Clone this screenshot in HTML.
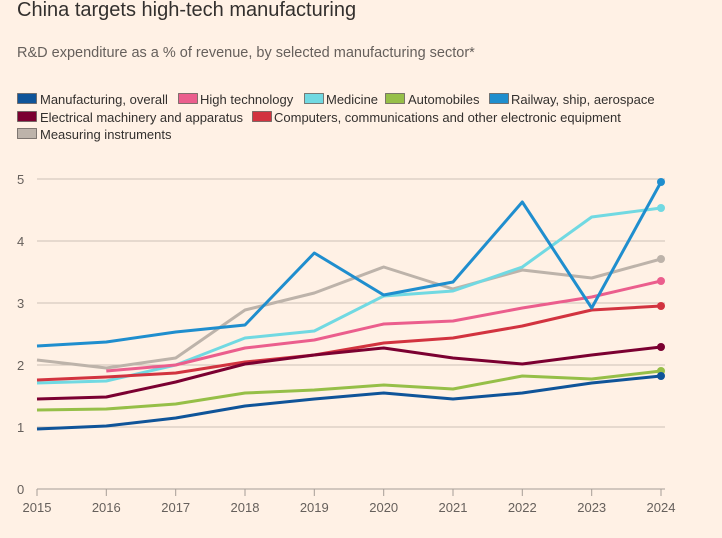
<!DOCTYPE html>
<html><head><meta charset="utf-8"><style>
body{margin:0;background:#fff1e5;width:722px;height:533px;overflow:hidden;font-family:"Liberation Sans",sans-serif;}
</style></head><body>
<svg width="722" height="533" xmlns="http://www.w3.org/2000/svg" font-family="Liberation Sans, sans-serif">
<rect width="722" height="533" fill="#fff1e5"/>
<text x="17" y="16" font-size="20" fill="#33302e">China targets high-tech manufacturing</text>
<text x="17" y="57" font-size="14.5" fill="#66605c">R&amp;D expenditure as a % of revenue, by selected manufacturing sector*</text>
<g font-size="13" fill="#33302e" stroke="#66605c" stroke-width="0.8">
<rect x="17.5" y="93.5" width="19" height="10" fill="#0f5499"/>
<rect x="178.5" y="93.5" width="19" height="10" fill="#eb5e8d"/>
<rect x="304.5" y="93.5" width="19" height="10" fill="#71d9e2"/>
<rect x="385.5" y="93.5" width="19" height="10" fill="#96bf48"/>
<rect x="489.5" y="93.5" width="19" height="10" fill="#1f8ece"/>
<rect x="17.5" y="111.5" width="19" height="10" fill="#7b0031"/>
<rect x="252.5" y="111.5" width="19" height="10" fill="#d2333f"/>
<rect x="17.5" y="128.5" width="19" height="10" fill="#bdb3aa"/>
</g>
<g font-size="13" fill="#33302e">
<text x="40" y="104">Manufacturing, overall</text>
<text x="200" y="104">High technology</text>
<text x="326" y="104">Medicine</text>
<text x="408" y="104">Automobiles</text>
<text x="511" y="104">Railway, ship, aerospace</text>
<text x="40" y="122">Electrical machinery and apparatus</text>
<text x="274" y="122">Computers, communications and other electronic equipment</text>
<text x="40" y="139">Measuring instruments</text>
</g>
<g stroke="#ccc1b7" stroke-width="1">
<line x1="37" x2="665" y1="179" y2="179"/><line x1="37" x2="665" y1="241" y2="241"/>
<line x1="37" x2="665" y1="303" y2="303"/><line x1="37" x2="665" y1="365" y2="365"/>
<line x1="37" x2="665" y1="427" y2="427"/>
</g>
<g font-size="13" fill="#66605c">
<text x="17" y="184">5</text><text x="17" y="246">4</text><text x="17" y="308">3</text>
<text x="17" y="370">2</text><text x="17" y="432">1</text><text x="17" y="494">0</text>
</g>
<line x1="37" x2="665" y1="489" y2="489" stroke="#a69d96" stroke-width="1"/>
<g stroke="#a69d96" stroke-width="1">
<line x1="37" x2="37" y1="489" y2="496"/><line x1="106.3" x2="106.3" y1="489" y2="496"/><line x1="175.7" x2="175.7" y1="489" y2="496"/><line x1="245" x2="245" y1="489" y2="496"/><line x1="314.3" x2="314.3" y1="489" y2="496"/><line x1="383.7" x2="383.7" y1="489" y2="496"/><line x1="453" x2="453" y1="489" y2="496"/><line x1="522.3" x2="522.3" y1="489" y2="496"/><line x1="591.7" x2="591.7" y1="489" y2="496"/><line x1="661" x2="661" y1="489" y2="496"/>
</g>
<g font-size="13" fill="#66605c" text-anchor="middle">
<text x="37" y="512">2015</text><text x="106.3" y="512">2016</text><text x="175.7" y="512">2017</text><text x="245" y="512">2018</text><text x="314.3" y="512">2019</text><text x="383.7" y="512">2020</text><text x="453" y="512">2021</text><text x="522.3" y="512">2022</text><text x="591.7" y="512">2023</text><text x="661" y="512">2024</text>
</g>
<g fill="none" stroke-width="3" stroke-linejoin="round">
<polyline stroke="#bdb3aa" points="37,360 106.3,368 175.7,358 245,310 314.3,293 383.7,267 453,289 522.3,270 591.7,278 661,259"/>
<polyline stroke="#71d9e2" points="37,383 106.3,381 175.7,365 245,338 314.3,331 383.7,296 453,291 522.3,267 591.7,217 661,208"/>
<polyline stroke="#eb5e8d" points="106.3,371 175.7,365 245,348 314.3,340 383.7,324 453,321 522.3,308 591.7,297 661,281"/>
<polyline stroke="#d2333f" points="37,380 106.3,377 175.7,373 245,362 314.3,355 383.7,343 453,338 522.3,326 591.7,310 661,306"/>
<polyline stroke="#7b0031" points="37,399 106.3,397 175.7,382 245,364 314.3,355 383.7,348 453,358 522.3,364 591.7,355 661,347"/>
<polyline stroke="#96bf48" points="37,410 106.3,409 175.7,404 245,393 314.3,390 383.7,385 453,389 522.3,376 591.7,379 661,371"/>
<polyline stroke="#0f5499" points="37,429 106.3,426 175.7,418 245,406 314.3,399 383.7,393 453,399 522.3,393 591.7,383 661,376"/>
<polyline stroke="#1f8ece" points="37,346 106.3,342 175.7,332 245,325 314.3,253 383.7,295 453,282 522.3,202 591.7,308 661,182"/>
</g>
<g>
<circle cx="661" cy="259" r="4" fill="#bdb3aa"/><circle cx="661" cy="208" r="4" fill="#71d9e2"/>
<circle cx="661" cy="281" r="4" fill="#eb5e8d"/><circle cx="661" cy="306" r="4" fill="#d2333f"/>
<circle cx="661" cy="347" r="4" fill="#7b0031"/><circle cx="661" cy="371" r="4" fill="#96bf48"/>
<circle cx="661" cy="376" r="4" fill="#0f5499"/><circle cx="661" cy="182" r="4" fill="#1f8ece"/>
</g>
</svg>
</body></html>
